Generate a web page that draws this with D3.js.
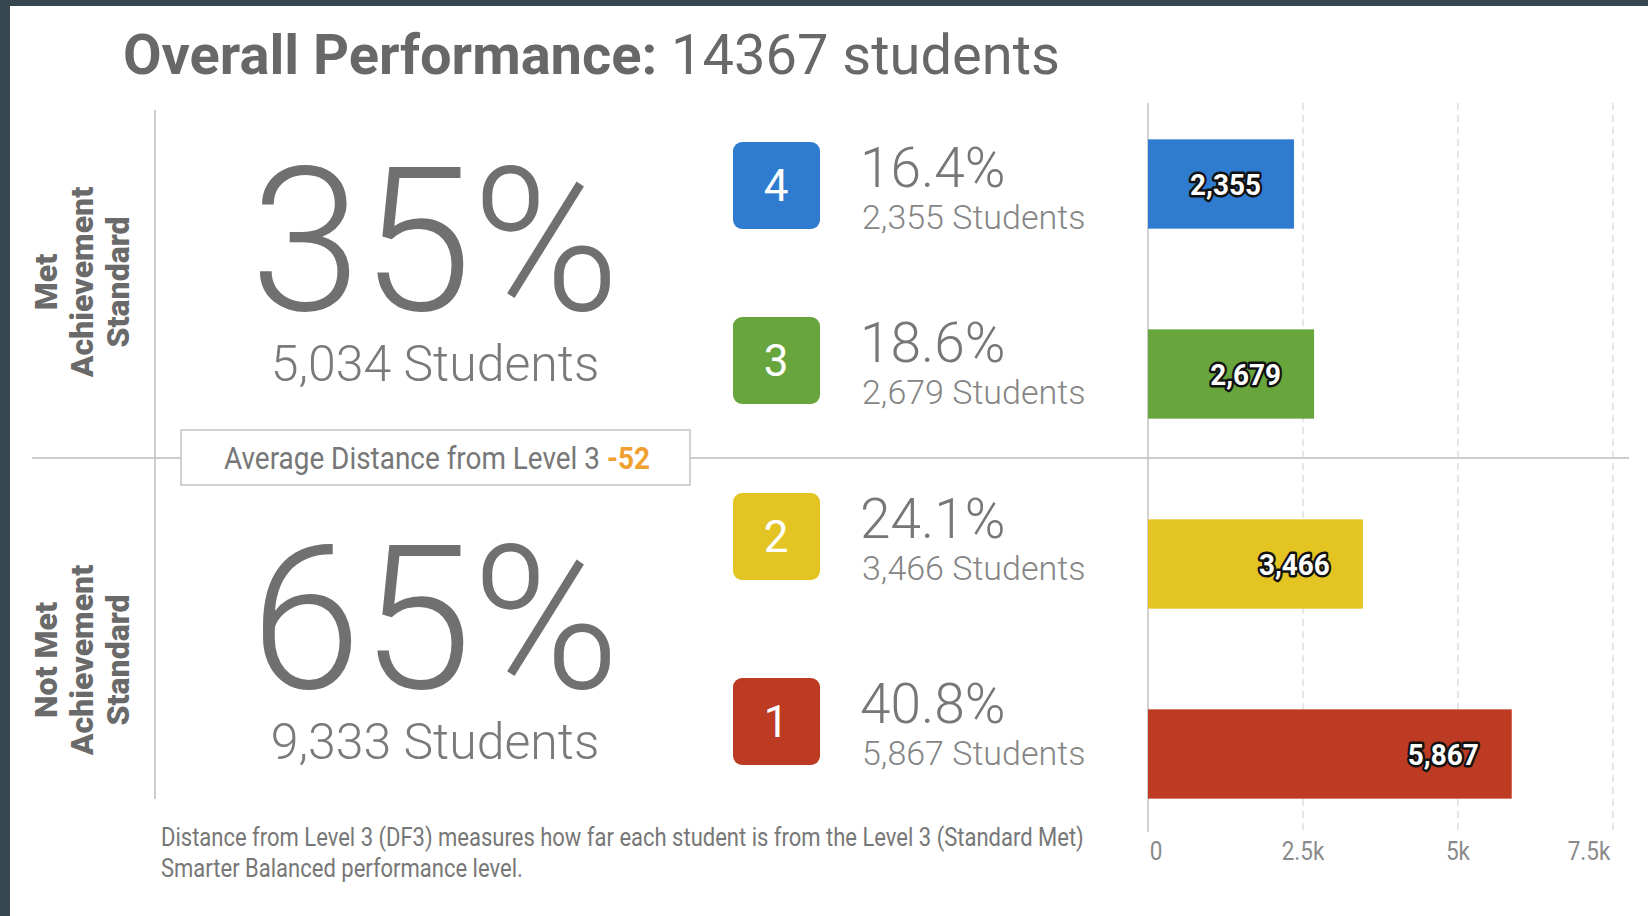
<!DOCTYPE html>
<html>
<head>
<meta charset="utf-8">
<script src="https://cdn.jsdelivr.net/npm/d3@7/dist/d3.min.js"></script>
<style>
  body { margin: 0; background: #37474f; }
  svg { display: block; font-family: Roboto, 'Noto Sans', sans-serif; }
</style>
</head>
<body>
<svg id="chart"></svg>
<script>
// data
var totalStudents = 14367;
var levels = ['4', '3', '2', '1'];
var levelStudents = [2355, 2679, 3466, 5867];
var levelColors = ['#2e7bcf', '#68a53c', '#e3c423', '#bd3b23'];
var groupLines = [['Met', 'Achievement', 'Standard'], ['Not Met', 'Achievement', 'Standard']];
var groupLevels = [['4', '3'], ['2', '1']];
var groupStudents = [5034, 9333];
var avgDistance = -52;
var xTicks = [0, 2500, 5000, 7500];
var footnote = ['Distance from Level 3 (DF3) measures how far each student is from the Level 3 (Standard Met)',
                'Smarter Balanced performance level.'];

var width = 1648, height = 916;
var fmt = d3.format(',');

var svg = d3.select('#chart').attr('width', width).attr('height', height);

// white panel inside the dark frame
svg.append('rect').attr('x', 10).attr('y', 6).attr('width', width - 10).attr('height', height - 6).attr('fill', '#fff');

// the source uses a condensed face, so squeeze Roboto a bit
function squeeze(sel, k) {
    sel.each(function () {
        var len = this.getComputedTextLength();
        d3.select(this).attr('textLength', len * k).attr('lengthAdjust', 'spacingAndGlyphs');
    });
}

// title
var title = svg.append('text').attr('x', 123).attr('y', 74).attr('font-size', 56).attr('fill', '#686868');
title.append('tspan').attr('font-weight', 700).text('Overall Performance:');
title.append('tspan').attr('font-weight', 400).text(' ' + totalStudents + ' students');

// frame lines
svg.append('line').attr('x1', 155).attr('x2', 155).attr('y1', 110).attr('y2', 799).attr('stroke', '#bdbdbd').attr('stroke-width', 1.5);
svg.append('line').attr('x1', 32).attr('x2', 1629).attr('y1', 458).attr('y2', 458).attr('stroke', '#bdbdbd').attr('stroke-width', 1.5);

// group blocks (met / not met)
var groupY = [0, 378];
var groups = svg.selectAll('g.group').data(groupLines).join('g').classed('group', true)
    .attr('transform', function (d, i) { return 'translate(0,' + groupY[i] + ')'; });

groups.append('text')
    .attr('transform', 'translate(81,282) rotate(-90)')
    .attr('text-anchor', 'middle').attr('font-size', 32).attr('font-weight', 900).attr('fill', '#6a6a6a')
    .selectAll('tspan').data(function (d) { return d; }).join('tspan')
    .attr('x', 0).attr('dy', function (d, i) { return i === 0 ? '-24' : '36'; })
    .text(function (d) { return d; });

groups.append('text').attr('x', 435).attr('y', 310).attr('text-anchor', 'middle')
    .attr('font-size', 200).attr('font-weight', 300).attr('fill', '#707070')
    .text(function (d, i) { return Math.round(groupStudents[i] / totalStudents * 100) + '%'; });

groups.append('text').attr('x', 435).attr('y', 381).attr('text-anchor', 'middle')
    .attr('font-size', 50).attr('font-weight', 300).attr('fill', '#7a7a7a')
    .text(function (d, i) { return fmt(groupStudents[i]) + ' Students'; });

// average distance box
svg.append('rect').attr('x', 181).attr('y', 430).attr('width', 509).attr('height', 55)
    .attr('fill', '#fff').attr('stroke', '#c4c4c4').attr('stroke-width', 1.5);
var avg = svg.append('text').attr('x', 224).attr('y', 469).attr('font-size', 31).attr('fill', '#777');
avg.append('tspan').text('Average Distance from Level 3 ');
avg.append('tspan').attr('font-weight', 700).attr('fill', '#f0a030').text(avgDistance);
squeeze(avg, 0.9);

// level list in the middle column, two rows per half
var rowRanges = [[185, 360], [536, 721]];
var rowY = {};
groupLevels.forEach(function (g, i) {
    var s = d3.scalePoint().domain(g).range(rowRanges[i]);
    g.forEach(function (l) { rowY[l] = s(l); });
});
var rows = svg.selectAll('g.level').data(levels).join('g').classed('level', true)
    .attr('transform', function (d) { return 'translate(0,' + rowY[d] + ')'; });

rows.append('rect').attr('x', 733).attr('y', -43).attr('width', 87).attr('height', 87).attr('rx', 9)
    .attr('fill', function (d, i) { return levelColors[i]; });
rows.append('text').attr('x', 776).attr('y', 16).attr('text-anchor', 'middle')
    .attr('font-size', 44).attr('fill', '#fff').text(function (d) { return d; });
rows.append('text').attr('x', 860).attr('y', 2).attr('font-size', 55).attr('font-weight', 300).attr('fill', '#777')
    .text(function (d, i) { return (levelStudents[i] / totalStudents * 100).toFixed(1) + '%'; });
rows.append('text').attr('x', 862).attr('y', 44).attr('font-size', 34).attr('font-weight', 300).attr('fill', '#858585')
    .text(function (d, i) { return fmt(levelStudents[i]) + ' Students'; });

// bar chart
var x = d3.scaleLinear().domain([0, 7500]).range([1148, 1613]);
var y = d3.scaleBand().domain(levels).range([89, 849]).paddingInner(0.53).paddingOuter(0.265);

svg.append('g').selectAll('line').data(xTicks.slice(1)).join('line')
    .attr('x1', x).attr('x2', x).attr('y1', 103).attr('y2', 834)
    .attr('stroke', '#d6d6d6').attr('stroke-width', 1.2).attr('stroke-dasharray', '7,5');
svg.append('line').attr('x1', x(0)).attr('x2', x(0)).attr('y1', 103).attr('y2', 832)
    .attr('stroke', '#c2c2c2').attr('stroke-width', 1.5);

svg.append('g').selectAll('rect').data(levels).join('rect')
    .attr('x', x(0)).attr('y', function (d) { return y(d); })
    .attr('width', function (d, i) { return x(levelStudents[i]) - x(0); })
    .attr('height', y.bandwidth())
    .attr('fill', function (d, i) { return levelColors[i]; });

svg.append('g').selectAll('text').data(levels).join('text')
    .attr('x', function (d, i) { return x(levelStudents[i]) - 33; })
    .attr('y', function (d) { return y(d) + y.bandwidth() / 2 + 11; })
    .attr('text-anchor', 'end').attr('font-size', 30).attr('font-weight', 700)
    .attr('fill', '#fff').attr('stroke', '#111').attr('stroke-width', 5).attr('stroke-linejoin', 'round')
    .attr('paint-order', 'stroke')
    .text(function (d, i) { return fmt(levelStudents[i]); })
    .call(squeeze, 0.93);

var tickFmt = function (v) { return v === 0 ? '0' : d3.format('~')(v / 1000) + 'k'; };
svg.append('g').selectAll('text').data(xTicks).join('text')
    .attr('x', function (d, i) { return x(d) + (i === 0 ? 8 : i === xTicks.length - 1 ? -24 : 0); })
    .attr('y', 860).attr('text-anchor', 'middle').attr('font-size', 25).attr('fill', '#8a8a8a')
    .text(tickFmt)
    .call(squeeze, 0.9);

// footnote
var note = svg.append('g').selectAll('text').data(footnote).join('text')
    .attr('x', 161).attr('y', function (d, i) { return 846 + i * 31; })
    .attr('font-size', 25).attr('fill', '#777').text(function (d) { return d; });
squeeze(note, 0.88);
</script>
</body>
</html>
